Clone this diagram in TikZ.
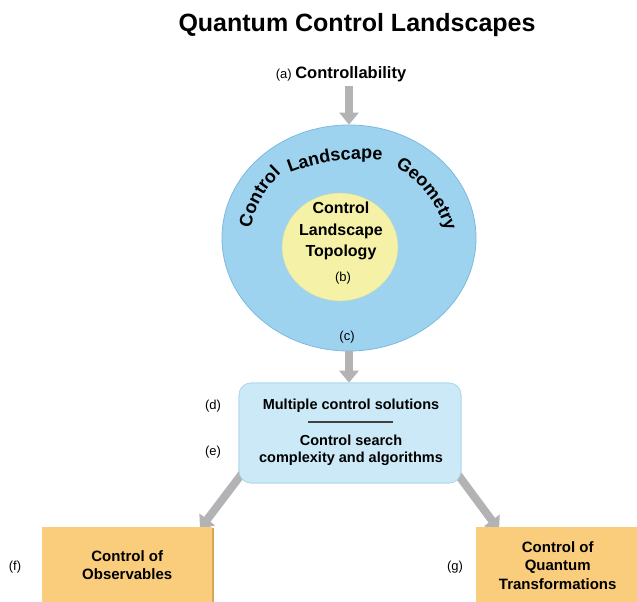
\documentclass[tikz,border=0pt]{standalone}
\usepackage{fontspec}
\setmainfont{Liberation Sans}
\usetikzlibrary{arrows.meta,shapes.geometric,decorations.text,shadows}
\definecolor{geoblue}{HTML}{9ED3F0}
\definecolor{geoedge}{HTML}{7DB9DF}
\definecolor{topoyellow}{HTML}{F5F1A6}
\definecolor{boxblue}{HTML}{CBE9F6}
\definecolor{boxedge}{HTML}{A8D4EA}
\definecolor{orangebox}{HTML}{F9CD7C}
\definecolor{orangeedge}{HTML}{D8A650}
\definecolor{arrowgray}{HTML}{B3B3B6}
\newcommand\myfs[1]{\fontsize{#1}{#1}\selectfont}
\begin{document}
\begin{tikzpicture}[x=1pt,y=1pt,
  flowarrow/.style={line width=8pt, draw=arrowgray, -{Triangle[length=12pt,width=19pt]}},
  lbl/.style={font=\myfs{13}, inner sep=0pt},
  boldtxt/.style={font=\bfseries\myfs{#1}, inner sep=0pt, align=center},
  debox/.style={rounded corners=12pt, fill=boxblue, draw=boxedge, line width=0.6pt, minimum width=222, minimum height=100, inner sep=0pt},
  obox/.style={fill=orangebox, draw=none, anchor=north west, inner sep=0pt, align=center,
     font=\bfseries\fontsize{15}{18.5}\selectfont,
     drop shadow={shadow xshift=1.6pt, shadow yshift=-1.2pt, fill=orangeedge, opacity=1}},
  arcword/.style={decorate, decoration={text along path, text align=center, text={|\bfseries\myfs{18}|#1}}}
]
\useasboundingbox (0,0) rectangle (637,-602);

% title
\node[boldtxt=25] (title) at (357,-25) {Quantum Control Landscapes};

% (a)
\node[inner sep=0pt, anchor=base] (ctrl) at (341,-78) {\myfs{13}(a) \bfseries\myfs{16.5}Controllability};
\coordinate (astart) at (349,-86);

% geometry ellipse and topology circle
\node[ellipse, fill=geoblue, draw=geoedge, line width=0.8pt, minimum width=254, minimum height=226, inner sep=0pt] (geo) at (349,-238) {};
\node[ellipse, fill=topoyellow, draw=topoyellow!90!black!60!geoblue, line width=0.4pt, minimum width=116, minimum height=108, inner sep=0pt] (topo) at (340,-247) {};

% curved words, each on its own arc
\coordinate (cc) at (349,-247);
\coordinate (lc) at (363,-359);
\coordinate (gc) at (340,-262);
\path[arcword=Control] (cc) ++(188:100) arc[start angle=188, end angle=114, radius=100];
\path[arcword=Landscape] (lc) ++(120:200) arc[start angle=120, end angle=76, radius=200];
\path[arcword=Geometry] (gc) ++(76:110) arc[start angle=76, end angle=0, radius=110];

\node[font=\bfseries\fontsize{16}{21.5}\selectfont, inner sep=0pt, align=center] (topotxt) at (341,-231) {Control\\Landscape\\Topology};
\node[lbl] (b) at (343,-278) {(b)};
\node[lbl] (c) at (347,-337) {(c)};

% arrows
\draw[flowarrow] (astart) -- (geo.north);

% box d/e
\node[debox] (de) at (350,-433) {};
\draw[flowarrow] (geo.south) -- (geo.south |- de.north);

\coordinate (fs) at (244,-471);
\coordinate (ft) at (200,-529);
\coordinate (gs) at (456,-472);
\coordinate (gt) at (499,-530);
\draw[flowarrow] (fs) -- (ft);
\draw[flowarrow] (gs) -- (gt);
\node[debox] (de2) at (de) {};

\node[boldtxt=14.5] (dtxt) at (351,-406) {Multiple control solutions};
\coordinate (sepl) at (308,-422);
\coordinate (sepr) at (393,-422);
\draw[line width=1.1pt, draw=black!75] (sepl) -- (sepr);
\node[font=\bfseries\fontsize{14.5}{17}\selectfont, inner sep=0pt, align=center] (etxt) at (351,-450) {Control search\\complexity and algorithms};
\node[lbl] (d) at (213,-406) {(d)};
\node[lbl] (e) at (213,-452) {(e)};

% bottom boxes
\node[obox, minimum width=170, minimum height=76] (f) at (42,-527) {Control of\\Observables};
\node[obox, minimum width=163, minimum height=76] (g) at (476,-527) {Control of\\Quantum\\Transformations};
\node[lbl] (flbl) at (15,-567) {(f)};
\node[lbl] (glbl) at (455,-567) {(g)};
\end{tikzpicture}
\end{document}
